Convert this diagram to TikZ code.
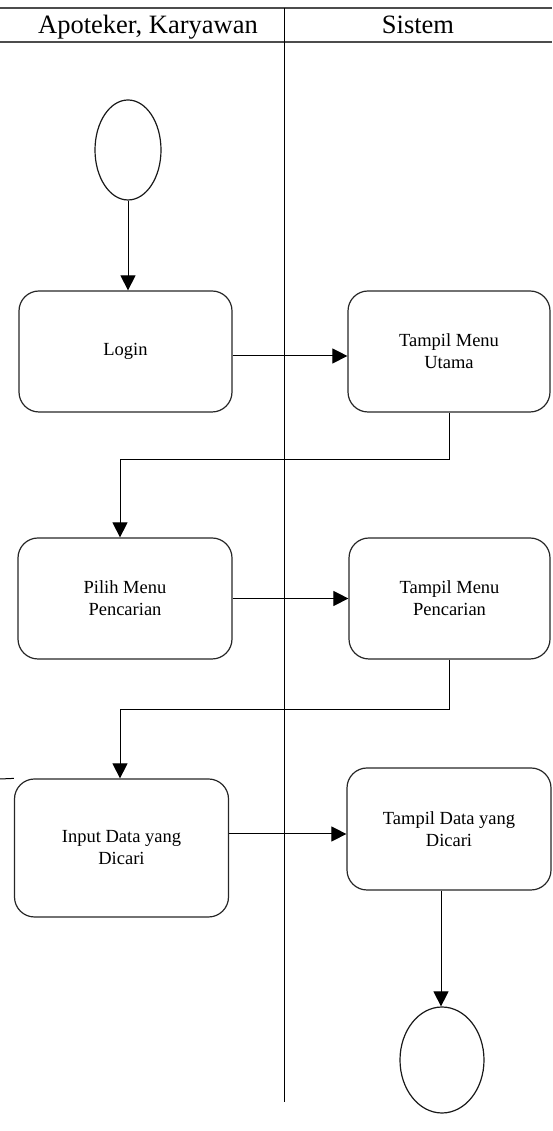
\documentclass[tikz,border=0pt]{standalone}
\usepackage{fontspec}
\setmainfont{Liberation Serif}
\usetikzlibrary{shapes.geometric,arrows.meta}
\begin{document}
\begin{tikzpicture}[x=1pt,y=1pt,
  act/.style={draw=black!85, line width=1.2pt, rounded corners=20pt, inner sep=0pt,
    align=center, font=\fontsize{18.5}{22}\selectfont},
  term/.style={draw=black!90, line width=1.2pt, ellipse, inner sep=0pt},
  arr/.style={draw=black, line width=1pt, -{Triangle[length=15pt,width=15pt]}},
  plain/.style={draw=black, line width=1pt},
  lane/.style={draw=black!70, line width=2pt},
  head/.style={anchor=base, font=\fontsize{26.5}{30}\selectfont}]
\useasboundingbox (0,0) rectangle (552,1131);

% swimlane header and divider
\draw[lane] (0,1123) -- (552,1123);
\draw[lane] (0,1089) -- (552,1089);
\draw[line width=1pt] (284.5,1123) -- (284.5,29);
\node[head] (laneA) at (148,1097.5) {Apoteker, Karyawan};
\node[head] (laneB) at (418,1097.5) {Sistem};

% start and end
\node[term, minimum width=66pt, minimum height=100pt] (start) at (128,981) {};
\node[term, minimum width=84pt, minimum height=106pt] (end) at (442,71) {};

% activities
\node[act, minimum width=213pt, minimum height=121pt] (login) at (125.5,779.5) {Login};
\node[act, minimum width=202pt, minimum height=121pt] (tmu) at (449,779.5) {Tampil Menu\\Utama};
\node[act, minimum width=214pt, minimum height=121pt] (pilih) at (125,532.5) {Pilih Menu\\Pencarian};
\node[act, minimum width=201pt, minimum height=121pt] (tmp) at (449.5,532.5) {Tampil Menu\\Pencarian};
\node[act, minimum width=214pt, minimum height=138pt] (input) at (121.5,283) {Input Data yang\\Dicari};
\node[act, minimum width=204pt, minimum height=122pt] (tdc) at (449,302) {Tampil Data yang\\Dicari};

% flow
\draw[arr] (start.south) -- (start.south |- login.north);
\draw[arr] ([yshift=-4.5pt]login.east) -- ([yshift=-4.5pt]login.east -| tmu.west);
\draw[arr] (tmu.south) -- ++(0,-47) -| ([xshift=-5pt]pilih.north);
\draw[arr] (pilih.east) -- (pilih.east -| tmp.west);
\draw[arr] (tmp.south) -- ++(0,-50) -| ([xshift=-1.5pt]input.north);
\draw[arr] ([yshift=14pt]input.east) -- ([yshift=14pt]input.east -| tdc.west);
\draw[arr] ([xshift=-8pt]tdc.south) -- ([xshift=-8pt]tdc.south |- end.north);
\coordinate (stub) at (0,352);
\draw[plain] (input.north west) -- (stub);
\end{tikzpicture}
\end{document}
